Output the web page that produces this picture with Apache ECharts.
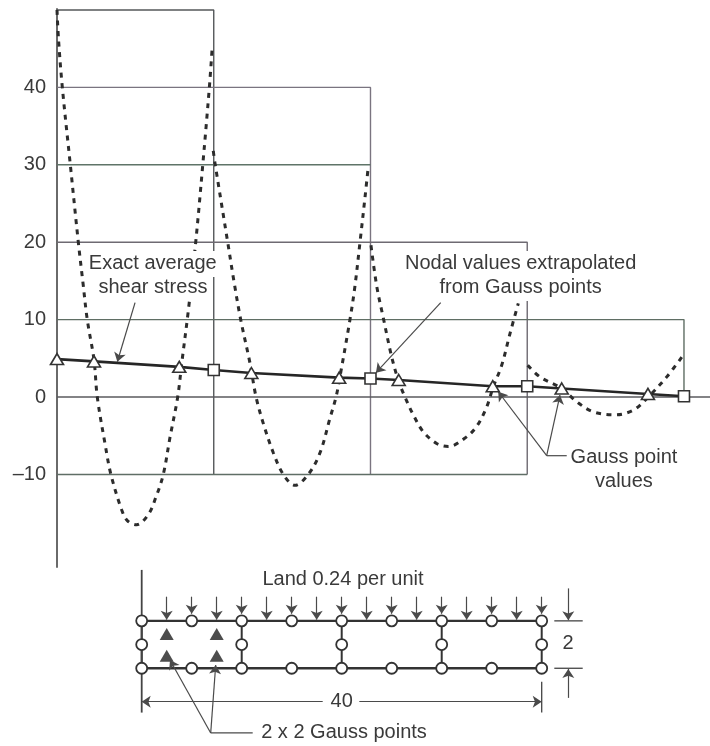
<!DOCTYPE html>
<html>
<head>
<meta charset="utf-8">
<style>html,body{margin:0;padding:0;background:#fff}#c{width:710px;height:746px}</style>
<script src="https://cdn.jsdelivr.net/npm/echarts@6/dist/echarts.min.js"></script>
</head>
<body>
<div id="c"></div>
<script>
// ---- upper plot: stress values
const yTickValues = [-10, 0, 10, 20, 30, 40];
const frame50 = [[0, 50], [10, 50], [10, -10]];
const frame40 = [[0, 40], [20, 40], [20, -10]];
const frame30 = [[0, 30], [20, 30]];
const frame20 = [[0, 20], [30, 20], [30, -10]];
const frame10 = [[0, 10], [40, 10], [40, 0]];
const frame0 = [[0, 0], [41.66, 0]];
const frameM10 = [[0, -10], [30, -10]];

const element1 = [[0,50],[0.1,46.1],[0.34,40],[0.85,30],[1.36,20],[1.66,14.7],[1.93,10],[2.36,4.8],[2.57,0],[3.06,-6],[3.44,-10],[4.13,-14.6],[4.5,-16],[5.08,-16.5],[5.82,-15.2],[6.3,-13],[6.78,-10],[7.21,-5.2],[7.7,0],[7.96,4.4],[8.38,11.2],[8.85,20],[9.3,30],[9.72,40],[9.9,45.1]];
const element2 = [[9.97,31.8],[10.08,30.2],[10.89,20],[11.31,14.7],[11.72,10],[12.31,4.4],[12.7,0],[13.16,-3.4],[13.8,-7.2],[14.44,-10],[15.18,-11.4],[16.03,-10],[16.78,-7.2],[17.42,-2.7],[17.8,0],[18.05,2.6],[18.69,10],[19,14.2],[19.33,20],[19.65,25.8],[19.86,29.8]];
const element3 = [[20.03,19.6],[20.4,14.3],[20.82,10.2],[21.35,5.2],[21.77,2.2],[22.2,0],[22.73,-2.3],[23.37,-4.5],[24.22,-6],[24.96,-6.4],[26.03,-5.3],[26.77,-3.8],[27.41,-1.3],[27.83,1.3],[28.37,4.1],[28.9,8.2],[29.43,12.1]];
const element4 = [[30.03,4.1],[30.81,2.6],[32.2,1.1],[33.15,-0.6],[34.2,-1.9],[35.6,-2.3],[36.76,-1.7],[37.72,0],[38.9,2.6],[39.95,5.4]];

const averageLine = [[0,4.9],[2.36,4.6],[7.8,3.9],[10,3.5],[12.4,3.1],[18,2.5],[20,2.4],[21.8,2.2],[27.8,1.4],[30,1.4],[32.2,1.1],[37.7,0.4],[40,0.1]];
const gaussValues = [[0,4.9],[2.36,4.6],[7.8,3.9],[12.4,3.1],[18,2.5],[21.8,2.2],[27.8,1.4],[32.2,1.1],[37.7,0.4]];
const nodalValues = [[10,3.5],[20,2.4],[30,1.4],[40,0.1]];

const upperLabels = [
  ['Exact average', 6.11, 17.2],
  ['shear stress', 6.12, 14.1],
  ['Nodal values extrapolated', 29.58, 17.2],
  ['from Gauss points', 29.58, 14.1],
  ['Gauss point', 36.17, -7.75],
  ['values', 36.17, -10.85]
];
const upperArrows = [
  [[4.98, 12.2], [3.85, 4.56]],
  [[24.48, 12.2], [20.35, 3.14]],
  [[31.24, -7.58], [28.15, 0.68]],
  [[31.24, -7.58], [32.09, 0.26]]
];
const gaussElbow = [[31.24, -7.58], [32.52, -7.58]];

// ---- lower plot: beam mesh
const beamTop = [[0, 2], [40, 2]];
const beamBottom = [[0, 0], [40, 0]];
const beamSides = [0, 10, 20, 30, 40];
const axisStub = [[0, 4.15], [0, -1.87]];
const endStub = [[40, -0.57], [40, -1.87]];
const edgeNodeX = [0, 5, 10, 15, 20, 25, 30, 35, 40];
const sideNodeX = [0, 10, 20, 30, 40];
const gaussTriangles = [[2.5, 1.45], [7.5, 1.45], [2.5, 0.53], [7.5, 0.53]];
const loadX = [2.5, 5, 7.5, 10, 12.5, 15, 17.5, 20, 22.5, 25, 27.5, 30, 32.5, 35, 37.5, 40];
const dimTicksTop = [[41.26, 2], [44.1, 2]];
const dimTicksBottom = [[41.26, 0], [44.1, 0]];
const gaussPointer = [[6.9, -2.73], [11.1, -2.73]];
const lowerArrows = [
  [[6.9, -2.73], [2.83, 0.35]],
  [[6.9, -2.73], [7.4, 0.14]],
  [[18.1, -1.41], [0, -1.41]],
  [[21.76, -1.41], [40, -1.41]],
  [[42.66, 3.37], [42.66, 2.03]],
  [[42.66, -1.25], [42.66, -0.03]]
];
const lowerLabels = [
  ['Land 0.24 per unit', 20.13, 3.73],
  ['2 x 2 Gauss points', 20.23, -2.73],
  ['40', 20, -1.41],
  ['2', 42.63, 1.03]
];

const INK = '#3a3a3a', FONT = '"Liberation Sans", Arial, sans-serif';
const series = [];

function path(data, color, width, idx, extra) {
  series.push(Object.assign({
    type: 'line', data, xAxisIndex: idx, yAxisIndex: idx, showSymbol: false, symbol: 'none',
    silent: true, clip: false, lineStyle: { color, width }, z: 2
  }, extra || {}));
}
function points(data, symbol, size, fill, stroke, sw, idx, z) {
  series.push({
    type: 'scatter', data, xAxisIndex: idx, yAxisIndex: idx, symbol, symbolSize: size, silent: true,
    clip: false, itemStyle: { color: fill, borderColor: stroke, borderWidth: sw, opacity: 1 }, z
  });
}
function labels(list, idx, size, bg) {
  series.push({
    type: 'scatter', xAxisIndex: idx, yAxisIndex: idx, symbolSize: 1, silent: true, clip: false, z: 6,
    itemStyle: { color: 'transparent', opacity: 1 },
    data: list.map(l => ({ name: l[0], value: [l[1], l[2]] })),
    label: {
      show: true, position: 'inside', formatter: '{b}', color: INK, opacity: 1, fontFamily: FONT, fontSize: size,
      backgroundColor: bg, padding: [3, 0, 3, 0]
    }
  });
}
function arrows(list, idx, size) {
  series.push({
    type: 'line', data: [], xAxisIndex: idx, yAxisIndex: idx, silent: true, z: 5,
    markLine: {
      silent: true, animation: false, symbol: ['none', 'arrow'], symbolSize: size, label: { show: false },
      lineStyle: { color: '#4a4a4a', width: 1.2, type: 'solid', opacity: 1 },
      emphasis: { disabled: true },
      data: list.map(a => [{ coord: a[0] }, { coord: a[1] }])
    }
  });
}

// upper frames
[frame50, frame40, frame30, frame20, frame10, frame0, frameM10].forEach((f, i) => {
  path(f, ['#55585a', '#7a7480', '#5f7468', '#6e6a72', '#5f6e64', '#5a5a5e', '#5f6e66'][i], 1.4, 0);
});
// dashed stress curves
[element1, element2, element3, element4].forEach(e => {
  path(e, '#2c2c2c', 3, 0, { smooth: 0.35, lineStyle: { color: '#2c2c2c', width: 3, type: [5, 5.5] }, z: 3 });
});
path(averageLine, '#262626', 2.6, 0, { z: 4 });
path(gaussElbow, '#4a4a4a', 1.2, 0, { z: 5 });
arrows(upperArrows, 0, 9);
points(gaussValues, 'triangle', [13, 11], '#fff', '#333', 1.6, 0, 7);
points(nodalValues, 'rect', [11, 11], '#fff', '#333', 1.6, 0, 7);
labels(upperLabels, 0, 20, '#fff');

// lower mesh
path(beamTop, '#333', 2.4, 1);
path(beamBottom, '#333', 2.4, 1);
beamSides.forEach(x => path([[x, 0], [x, 2]], '#333', 2, 1));
path(axisStub, '#444', 1.8, 1);
path(endStub, '#444', 1.3, 1);
path(dimTicksTop, '#444', 1.3, 1);
path(dimTicksBottom, '#444', 1.3, 1);
path(gaussPointer, '#4a4a4a', 1.2, 1);
points(gaussTriangles, 'triangle', [14, 12], '#4d4d4d', '#4d4d4d', 0, 1, 4);
points(edgeNodeX.map(x => [x, 2]).concat(edgeNodeX.map(x => [x, 0])), 'circle', 11, '#fff', '#333', 1.8, 1, 4);
points(sideNodeX.map(x => [x, 1]), 'circle', 11, '#fff', '#333', 1.8, 1, 4);
arrows(loadX.map((x, i) => [[x, 3.02], [x, i % 2 ? 2.3 : 2.05]]).concat(lowerArrows), 1, 9);
labels(lowerLabels, 1, 20, 'transparent');

const chart = echarts.init(document.getElementById('c'), null, { renderer: 'canvas' });
chart.setOption({
  animation: false,
  backgroundColor: '#fff',
  tooltip: { show: false },
  grid: [
    { left: 57, top: 9, width: 653, height: 558, containLabel: false },
    { left: 0, top: 550, width: 710, height: 196, containLabel: false }
  ],
  xAxis: [
    { type: 'value', gridIndex: 0, min: 0, max: 41.66, show: false, splitLine: { show: false } },
    { type: 'value', gridIndex: 1, min: -14.17, max: 56.83, show: false, splitLine: { show: false } }
  ],
  yAxis: [
    {
      type: 'value', gridIndex: 0, min: -21.96, max: 50.13, position: 'left',
      axisLine: { show: true, onZero: false, lineStyle: { color: '#5a5a5a', width: 1.8 } },
      axisTick: { show: false }, splitLine: { show: false },
      axisLabel: {
        customValues: yTickValues, margin: 11, color: INK, fontFamily: FONT, fontSize: 20,
        formatter: v => (v < 0 ? '\u2013' + Math.abs(v) : String(v))
      }
    },
    { type: 'value', gridIndex: 1, min: -3.28, max: 4.99, show: false, splitLine: { show: false } }
  ],
  series
});
</script>
</body>
</html>
